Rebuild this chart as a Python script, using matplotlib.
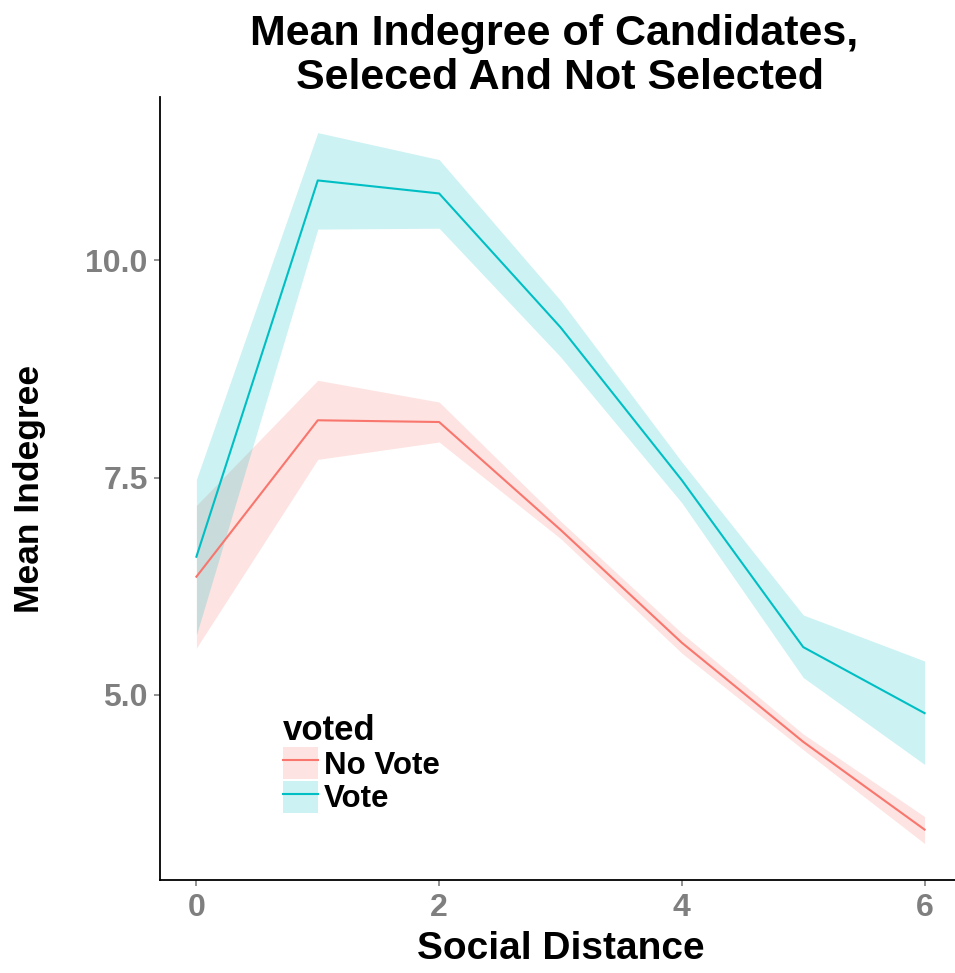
import matplotlib.pyplot as plt
from matplotlib.patches import Patch
from matplotlib.lines import Line2D

plt.rcParams["font.family"] = ["Liberation Sans", "DejaVu Sans"]

distance = [0, 1, 2, 3, 4, 5, 6]

# mean indegree and confidence band, by voting group
novote_mean = [6.36, 8.16, 8.14, 6.90, 5.60, 4.46, 3.45]
novote_lo = [5.54, 7.71, 7.91, 6.80, 5.48, 4.37, 3.29]
novote_hi = [7.18, 8.62, 8.37, 7.00, 5.71, 4.55, 3.60]

vote_mean = [6.59, 10.92, 10.77, 9.23, 7.47, 5.55, 4.79]
vote_lo = [5.69, 10.36, 10.37, 8.89, 7.21, 5.20, 4.20]
vote_hi = [7.48, 11.47, 11.16, 9.54, 7.68, 5.92, 5.39]

red = "#F8766D"
teal = "#00BFC4"

fig = plt.figure(figsize=(9.55, 9.73), dpi=100)
ax = fig.add_axes([160 / 955, 93 / 973, 801 / 955, 783 / 973])

ax.fill_between(distance, novote_lo, novote_hi, color=red, alpha=0.2, lw=0)
ax.fill_between(distance, vote_lo, vote_hi, color=teal, alpha=0.2, lw=0)
ax.plot(distance, novote_mean, color=red, lw=1.5)
ax.plot(distance, vote_mean, color=teal, lw=1.5)

ax.set_xlim(-0.3, 6.3)
ax.set_ylim(2.87, 11.88)
ax.set_xticks([0, 2, 4, 6])
ax.set_yticks([5.0, 7.5, 10.0])
ax.set_yticklabels(["5.0", "7.5", "10.0"])

for s in ["top", "right"]:
    ax.spines[s].set_visible(False)
for s in ["left", "bottom"]:
    ax.spines[s].set_linewidth(1.3)
    ax.spines[s].set_color("black")

ax.tick_params(colors="#7f7f7f", labelsize=23, length=4, width=1.2, pad=5)
for lab in ax.get_xticklabels() + ax.get_yticklabels():
    lab.set_fontweight("bold")

ax.set_xlabel("Social Distance", fontsize=28, fontweight="bold", labelpad=6)
ax.set_ylabel("Mean Indegree", fontsize=25.5, fontweight="bold", labelpad=28)
fig.suptitle("Mean Indegree of Candidates,\n Seleced And Not Selected",
             fontsize=31, fontweight="bold", x=0.58, y=0.986, linespacing=1.15)

handles = [
    (Patch(facecolor=red, alpha=0.2, lw=0), Line2D([], [], color=red, lw=1.5)),
    (Patch(facecolor=teal, alpha=0.2, lw=0), Line2D([], [], color=teal, lw=1.5)),
]
leg = ax.legend(handles, ["No Vote", "Vote"], title="voted", loc="lower left",
                bbox_to_anchor=(0.153, 0.084), frameon=False,
                prop={"weight": "bold", "size": 22.5},
                handlelength=1.12, handleheight=1.2, labelspacing=0.0,
                handletextpad=0.2, borderaxespad=0, borderpad=0)
leg.get_title().set_fontweight("bold")
leg.get_title().set_fontsize(25)
leg._legend_box.align = "left"

fig.savefig("out.png", dpi=100)
